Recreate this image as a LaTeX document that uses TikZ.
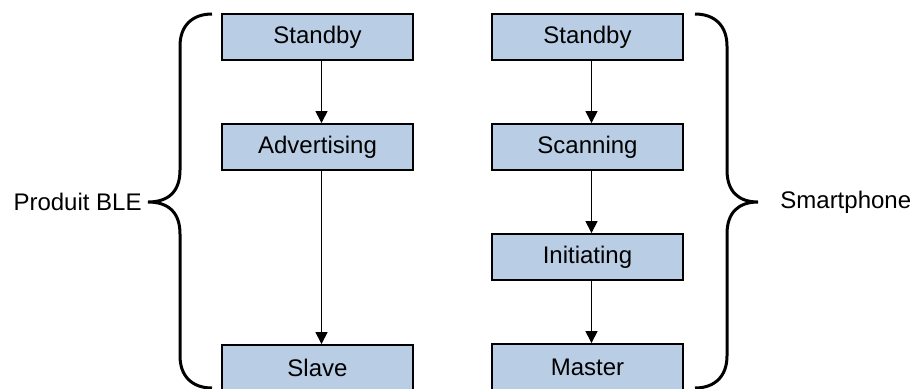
\documentclass[tikz,border=0pt]{standalone}
\usepackage{fontspec}
\setmainfont{Liberation Sans}
\usetikzlibrary{arrows.meta}
\definecolor{boxblue}{RGB}{185,205,228}

\begin{document}
\begin{tikzpicture}[x=0.5pt,y=-0.5pt,->,>={Triangle[width=6pt,length=6pt]},node distance=55pt,
  box/.style={draw,fill=boxblue,line width=0.9pt,minimum width=95.5pt,minimum height=23pt,inner sep=0pt,font=\fontsize{12}{14}\selectfont},
  brace/.style={-,line width=1.5pt},
  lbl/.style={font=\fontsize{12}{14}\selectfont,inner sep=0pt}]
  \useasboundingbox (0,0) rectangle (916,388);

  % BLE side
  \node [box] (L0) at (317.5,37) {Standby};
  \node [box,below of= L0] (L1) {Advertising};
  \node [box,below of= L1,node distance=110.5pt] (L2) {Slave};

  % smartphone side
  \node [box] (R0) at (587.5,37) {Standby};
  \node [box,below of= R0] (R1) {Scanning};
  \node [box,below of= R1] (R2) {Initiating};
  \node [box,below of= R2] (R3) {Master};

  \path[->,line width=0.5pt] ([xshift=2pt]L0.south) edge ([xshift=2pt]L1.north);
  \path[->,line width=0.5pt] ([xshift=2pt]L1.south) edge ([xshift=2pt]L2.north);
  \path[->,line width=0.5pt] ([xshift=2pt]R0.south) edge ([xshift=2pt]R1.north);
  \path[->,line width=0.5pt] ([xshift=2pt]R1.south) edge ([xshift=2pt]R2.north);
  \path[->,line width=0.5pt] ([xshift=2pt]R2.south) edge ([xshift=2pt]R3.north);

  % braces
  \coordinate (ltip) at (148,202);
  \coordinate (rtip) at (758,202);
  \draw[brace] (212,14) .. controls (192,14) and (180,26) .. (180,46) -- (180,170)
    .. controls (180,192) and (168,202) .. (ltip)
    .. controls (168,202) and (180,212) .. (180,234) -- (180,356)
    .. controls (180,376) and (192,388) .. (212,388);
  \draw[brace] (695,14) .. controls (715,14) and (727,26) .. (727,46) -- (727,170)
    .. controls (727,192) and (739,202) .. (rtip)
    .. controls (739,202) and (727,212) .. (727,234) -- (727,356)
    .. controls (727,376) and (715,388) .. (695,388);

  \node [lbl,anchor=east] (ble) at (142,202) {Produit BLE};
  \node [lbl,anchor=west] (phone) at (780,202) {Smartphone};
\end{tikzpicture}
\end{document}
